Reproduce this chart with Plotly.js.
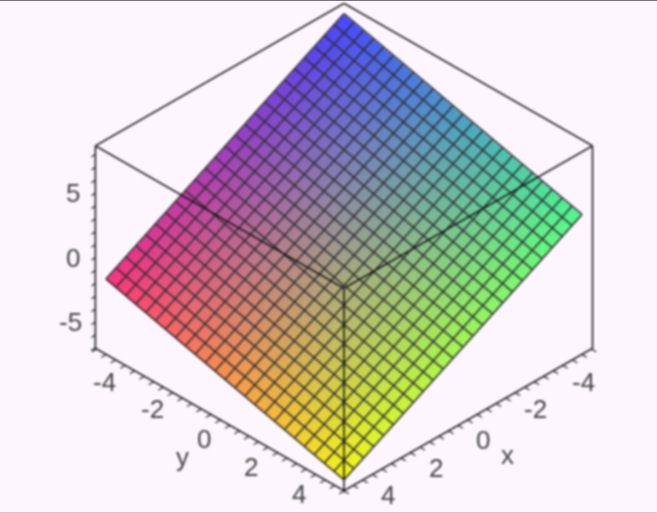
<!DOCTYPE html>
<html><head><meta charset="utf-8">
<script src="https://cdn.plot.ly/plotly-3.0.1.min.js"></script>
<style>
html,body{margin:0;padding:0;background:#fdf6fe;overflow:hidden}
#plot{position:absolute;left:-106.5px;top:-104.5px;width:900px;height:703px;filter:blur(1.25px)}
#t{position:absolute;left:0;top:0;width:657px;height:1px;background:#777}
#b{position:absolute;left:0;top:512px;width:657px;height:1px;background:#ccc}
</style></head><body>
<div id="plot"></div><div id="t"></div><div id="b"></div>
<script>
const xRange=[-5.22,5.22], yRange=[-5.22,5.22], zRange=[-7.1,8.67];
const levels=[-5,-4.58,-4.17,-3.75,-3.33,-2.92,-2.5,-2.08,-1.67,-1.25,-.83,-.42,0,.42,.83,1.25,1.67,2.08,2.5,2.92,3.33,3.75,4.17,4.58,5];
const zAtYmin=[8.35,7.93,7.52,7.10,6.68,6.27,5.85,5.43,5.02,4.60,4.18,3.77,3.35,2.93,2.52,2.10,1.68,1.27,.85,.43,.02,-.40,-.82,-1.23,-1.65];
const zAtYmax=[3.35,2.93,2.52,2.10,1.68,1.27,.85,.43,.02,-.40,-.82,-1.23,-1.65,-2.07,-2.48,-2.90,-3.32,-3.73,-4.15,-4.57,-4.98,-5.40,-5.82,-6.23,-6.65];
const zAtXmin=[8.35,8.14,7.93,7.73,7.52,7.31,7.10,6.89,6.68,6.48,6.27,6.06,5.85,5.64,5.43,5.23,5.02,4.81,4.60,4.39,4.18,3.98,3.77,3.56,3.35];
const zAtXmax=[-1.65,-1.86,-2.07,-2.27,-2.48,-2.69,-2.90,-3.11,-3.32,-3.52,-3.73,-3.94,-4.15,-4.36,-4.57,-4.77,-4.98,-5.19,-5.40,-5.61,-5.82,-6.02,-6.23,-6.44,-6.65];
const cornerX=[-5,5,5,-5], cornerY=[-5,-5,5,5], cornerZ=[8.25,-1.75,-6.75,3.25];
const cornerColor=['rgb(70,70,255)','rgb(250,50,125)','rgb(245,245,25)','rgb(80,250,140)'];
const minorTicks=[-5.2,-4.8,-4.4,-4,-3.6,-3.2,-2.8,-2.4,-2,-1.6,-1.2,-.8,-.4,0,.4,.8,1.2,1.6,2,2.4,2.8,3.2,3.6,4,4.4,4.8,5.2];
const zTicks=[-7,-6,-5,-4,-3,-2,-1,0,1,2,3,4,5,6,7,8];
const horizLabelVals=[-4,-2,0,2,4];
const horizLabels=['-4','-2','0','2','4'];
const zLabelVals=[-5,0,5];
const zLabels=['-5','0','5'];

const gx=[],gy=[],gz=[];
levels.forEach((v,i)=>{
  gx.push(v,v,null); gy.push(-5,5,null); gz.push(zAtYmin[i],zAtYmax[i],null);
  gx.push(-5,5,null); gy.push(v,v,null); gz.push(zAtXmin[i],zAtXmax[i],null);
});
const ex=[],ey=[],ez=[];
const seg=(a,b,c,d,e,f)=>{ex.push(a,d,null);ey.push(b,e,null);ez.push(c,f,null);};
const [x0,x1]=xRange,[y0,y1]=yRange,[z0,z1]=zRange;
seg(x0,y0,z1,x1,y0,z1);seg(x1,y0,z1,x1,y1,z1);seg(x1,y1,z1,x0,y1,z1);seg(x0,y1,z1,x0,y0,z1);
const zb=z0+0.05;
seg(x1-0.01,y0,zb,x1-0.01,y1,zb);seg(x1,y1-0.01,zb,x0,y1-0.01,zb);
[[x1,y0],[x1,y1],[x0,y1]].forEach(p=>seg(p[0],p[1],z0,p[0],p[1],z1));

const traces=[
 {type:'mesh3d',x:cornerX,y:cornerY,z:cornerZ,i:[0,0],j:[1,2],k:[2,3],vertexcolor:cornerColor,
  lighting:{ambient:1,diffuse:0,specular:0,roughness:1,fresnel:0},hoverinfo:'skip'},
 {type:'scatter3d',mode:'lines',x:gx,y:gy,z:gz,line:{color:'#2e2c34',width:3},hoverinfo:'skip',showlegend:false},
 {type:'scatter3d',mode:'lines',x:ex,y:ey,z:ez,line:{color:'#111111',width:3},hoverinfo:'skip',showlegend:false}
];
const font={family:'Liberation Sans',size:26,color:'#444'};
const note=(x,y,z,text,xshift,yshift)=>({x,y,z,text,xshift,yshift,showarrow:false,xanchor:'center',yanchor:'middle',font});
const annotations=[];
horizLabelVals.forEach((v,i)=>{
  annotations.push(note(x1,v,z0,horizLabels[i],v<0?-20:-16,v<0?-16:-19));
  annotations.push(note(v,y1,z0,horizLabels[i],v<0?20:15,v<0?-16:-20));
});
zLabelVals.forEach((v,i)=>annotations.push(note(x1,y0,v,zLabels[i],v<0?-25:-22,0)));
annotations.push(note(x1,0,z0,'y',-37,-37));
annotations.push(note(0,y1,z0,'x',39,-35));
const ax={showgrid:false,zeroline:false,showbackground:false,showline:false,showspikes:false,showticklabels:false,ticks:'outside',ticklen:6,tickcolor:'#111',tickwidth:2.5,title:{text:''}};
const layout={
 width:900,height:703,margin:{l:0,r:0,t:0,b:0},paper_bgcolor:'#fdf6fe',showlegend:false,
 scene:{aspectmode:'manual',aspectratio:{x:1,y:1,z:0.706},annotations,
  camera:{projection:{type:'orthographic'},eye:{x:0.92,y:0.92,z:0.91},up:{x:0,y:0,z:1},center:{x:0,y:0,z:0}},
  xaxis:Object.assign({},ax,{range:xRange,tickmode:'array',tickvals:minorTicks}),
  yaxis:Object.assign({},ax,{range:yRange,tickmode:'array',tickvals:minorTicks}),
  zaxis:Object.assign({},ax,{range:zRange,tickmode:'array',tickvals:zTicks}),
  bgcolor:'#fdf6fe'}
};
Plotly.newPlot('plot',traces,layout,{displayModeBar:false});
</script></body></html>
